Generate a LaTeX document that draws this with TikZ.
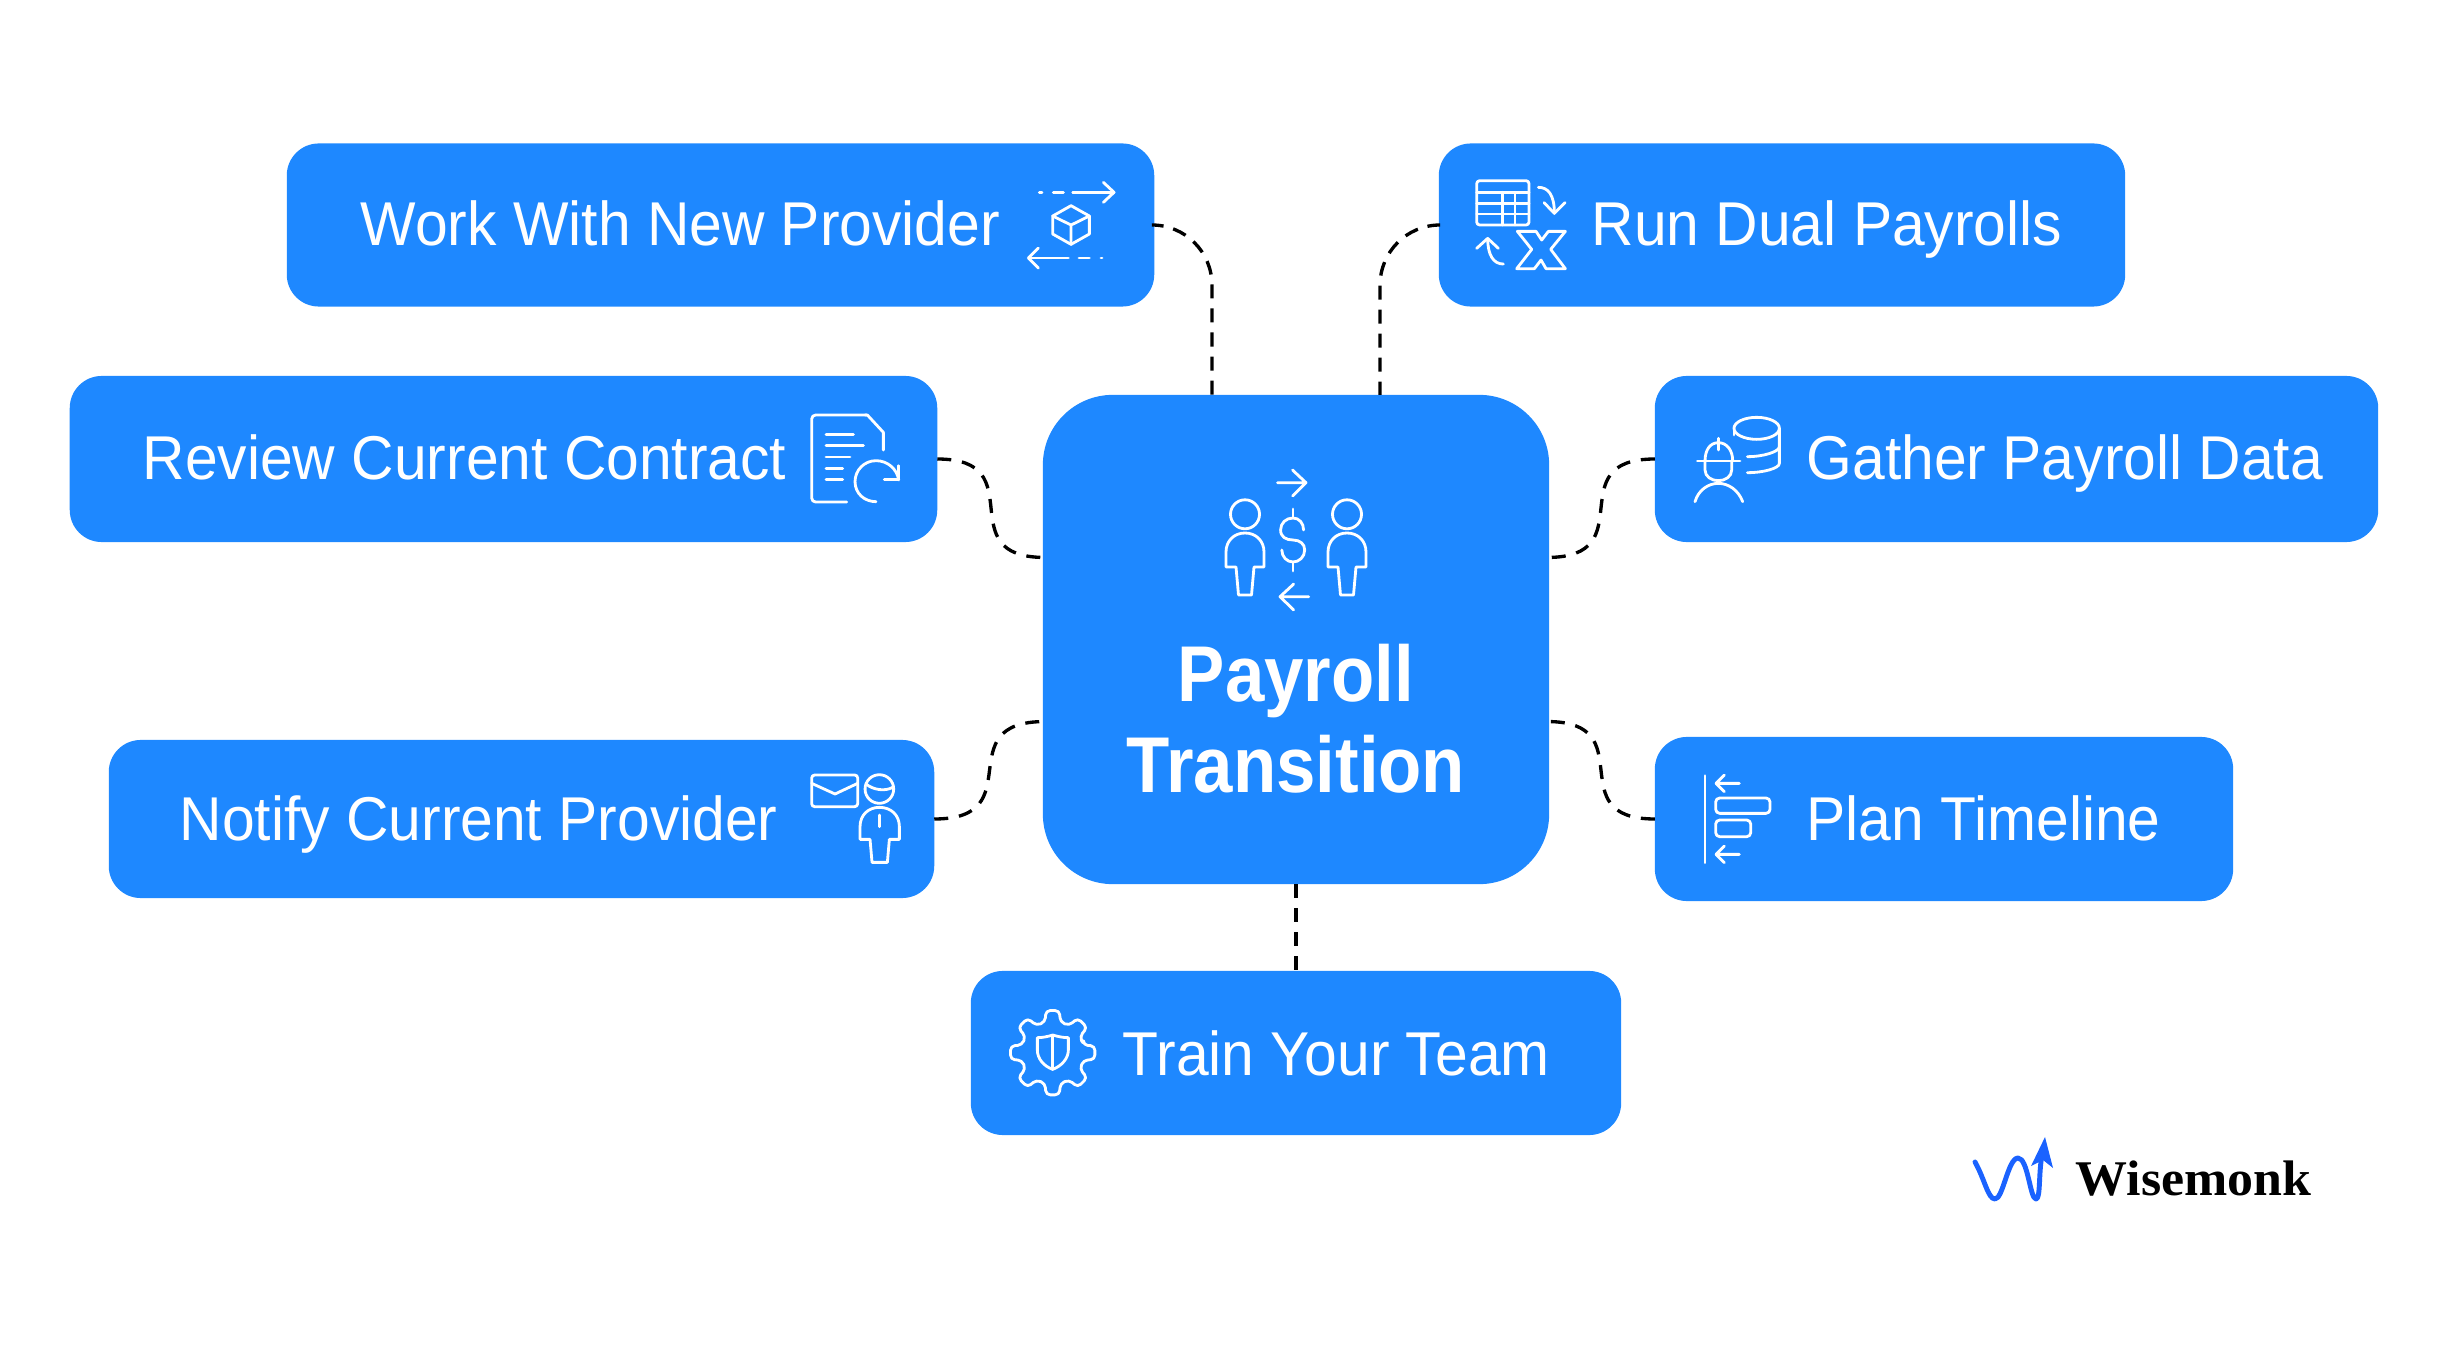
\documentclass[tikz,border=0pt]{standalone}
\usepackage{fontspec}
\setmainfont{Liberation Sans}[FakeStretch=0.95]
\newfontfamily\titlefont{Liberation Sans}[FakeStretch=0.895]
\newfontfamily\logofont{Liberation Serif}[FakeStretch=1.04]
\definecolor{boxblue}{HTML}{1E88FF}
\definecolor{logoblue}{HTML}{1A62FF}
\tikzset{
  itembox/.style={fill=boxblue,rounded corners=0.32cm,inner sep=0pt,outer sep=0pt},
  boxtext/.style={anchor=base west,inner sep=0pt,text=white,font=\fontsize{17.6pt}{20pt}\selectfont},
  titletext/.style={anchor=base,inner sep=0pt,text=white,font=\titlefont\fontsize{22.5pt}{26pt}\selectfont\bfseries},
  link/.style={draw=black,line width=0.95pt,dash pattern=on 0.14cm off 0.1cm},
  curvelink/.style={link,dash pattern=on 0.14cm off 0.109cm},
  icon/.style={draw=white,line width=0.8pt,line cap=round,line join=round},
  cropunits/.style={x=0.03333mm,y=-0.03333mm}
}
\begin{document}
\begin{tikzpicture}[x=0.01cm,y=-0.01cm]
\useasboundingbox (0,0) rectangle (2448,1355);

\node[itembox,minimum width=8.67cm,minimum height=1.63cm] (work) at (720.5,225) {};
\node[itembox,minimum width=6.86cm,minimum height=1.63cm] (run) at (1782,225) {};
\node[itembox,minimum width=8.67cm,minimum height=1.66cm] (review) at (503.5,459) {};
\node[itembox,minimum width=7.23cm,minimum height=1.66cm] (gather) at (2016.5,459) {};
\node[itembox,minimum width=8.25cm,minimum height=1.58cm] (notify) at (521.5,819) {};
\node[itembox,minimum width=5.78cm,minimum height=1.64cm] (plan) at (1944,819) {};
\node[itembox,minimum width=6.50cm,minimum height=1.64cm] (train) at (1296,1053) {};
\node[itembox,rounded corners=0.7cm,minimum width=5.06cm,minimum height=4.89cm] (payroll) at (1296,639.5) {};

\node[boxtext] (worktext) at (360,246) {Work With New Provider};
\node[boxtext] (runtext) at (1591,246) {Run Dual Payrolls};
\node[boxtext] (reviewtext) at (142,480) {Review Current Contract};
\node[boxtext] (gathertext) at (1806,480) {Gather Payroll Data};
\node[boxtext] (notifytext) at (179,840) {Notify Current Provider};
\node[boxtext] (plantext) at (1806,840) {Plan Timeline};
\node[boxtext] (traintext) at (1122,1075) {Train Your Team};
\node[titletext] (payrollone) at (1296,701) {Payroll};
\node[titletext] (payrolltwo) at (1296,792) {Transition};

\draw[link,rounded corners=0.6cm] (work.east) -| ([xshift=-0.84cm]payroll.north);
\draw[link,rounded corners=0.6cm] (run.west) -| ([xshift=0.84cm]payroll.north);
\draw[curvelink] (review.east) to[out=0,in=180,looseness=1.7] ([shift={(0.02cm,0.82cm)}]payroll.west);
\draw[curvelink] (notify.east) to[out=0,in=180,looseness=1.7] ([shift={(0.02cm,-0.82cm)}]payroll.west);
\draw[curvelink] (gather.west) to[out=180,in=0,looseness=1.7] ([shift={(-0.02cm,0.82cm)}]payroll.east);
\draw[curvelink] (plan.west) to[out=180,in=0,looseness=1.7] ([shift={(-0.02cm,-0.82cm)}]payroll.east);
\draw[link] (payroll.south) -- (train.north);

% cube
\begin{scope}[shift={(1000,150)},cropunits]
\draw[icon] (118,127)--(126,127) (160,127)--(190,127) (218,127)--(342,127);
\draw[icon] (310,97)--(342,127)--(310,157);
\draw[icon] (85,324)--(205,324) (237,324)--(268,324) (303,324)--(306,324);
\draw[icon] (115,294)--(85,324)--(115,354);
\draw[icon] (213,167)--(268,198)--(268,252)--(213,283)--(158,252)--(158,198)--cycle;
\draw[icon] (158,198)--(213,225)--(268,198) (213,225)--(213,283);
\end{scope}
% table and x
\begin{scope}[shift={(1440,160)},cropunits]
\draw[icon,rounded corners=0.3mm] (110,62) rectangle (267,195);
\draw[icon] (110,97)--(267,97) (110,130)--(267,130) (110,162)--(267,162);
\draw[icon] (187,97)--(187,195) (225,97)--(225,195);
\draw[icon] (295,82) .. controls (325,82) and (343,105) .. (343,160);
\draw[icon] (312,128)--(343,160)--(375,128);
\draw[icon] (143,235) .. controls (143,285) and (160,312) .. (190,312);
\draw[icon] (110,265)--(143,235)--(175,265);
\draw[icon] (232,214)--(288,214)--(305,240)--(325,214)--(376,214)--(332,268)--(376,326)--(318,326)--(303,300)--(283,326)--(230,326)--(275,268)--cycle;
\end{scope}
% contract
\begin{scope}[shift={(790,400)},cropunits]
\draw[icon,rounded corners=0.4mm] (170,306)--(65,306)--(65,45)--(230,45);
\draw[icon] (225,45)--(232,45)--(280,97)--(280,150);
\draw[icon] (108,103)--(190,103) (108,137)--(220,137) (108,171)--(180,171) (108,205)--(158,205) (108,239)--(158,239);
\draw[icon] (258,305) .. controls (223,305) and (195,280) .. (195,245) .. controls (195,210) and (223,182) .. (258,182) .. controls (293,182) and (321,207) .. (326,240);
\draw[icon] (283,238)--(326,238)--(326,197);
\end{scope}
% envelope and person
\begin{scope}[shift={(790,760)},cropunits]
\draw[icon,rounded corners=0.3mm] (65,45) rectangle (203,140);
\draw[icon] (65,70)--(135,102)--(203,70);
\draw[icon] (268,87) circle (1.43mm);
\draw[icon] (228,72) .. controls (250,90) and (285,95) .. (308,82);
\draw[icon] (240,238)--(210,238)--(210,200) .. controls (210,165) and (235,142) .. (268,142) .. controls (303,142) and (328,165) .. (328,200)--(328,238)--(298,238)--(292,307)--(246,307)--cycle;
\draw[icon] (268,165)--(268,200);
\end{scope}
% worker and database
\begin{scope}[shift={(1680,400)},cropunits]
\draw[icon] (230,85) ellipse (2.27mm and 1.1mm);
\draw[icon] (162,85)--(162,105);
\draw[icon] (298,85)--(298,190) .. controls (298,205) and (250,218) .. (202,218);
\draw[icon] (298,140) .. controls (298,155) and (250,170) .. (202,170);
\draw[icon] (52,183)--(180,183) (115,115)--(115,150);
\draw[icon] (75,183) .. controls (75,150) and (90,128) .. (115,128) .. controls (140,128) and (158,150) .. (158,183);
\draw[icon] (75,183)--(75,210) .. controls (75,230) and (95,242) .. (115,242) .. controls (135,242) and (155,230) .. (155,210)--(155,183);
\draw[icon] (45,305) .. controls (55,270) and (85,250) .. (115,250) .. controls (145,250) and (175,270) .. (188,305);
\end{scope}
% timeline
\begin{scope}[shift={(1680,750)},cropunits]
\draw[icon] (75,77)--(75,338);
\draw[icon] (108,100)--(178,100) (133,75)--(108,100)--(133,125);
\draw[icon] (108,313)--(178,313) (133,288)--(108,313)--(133,338);
\draw[icon,rounded corners=0.4mm] (107,144) rectangle (270,190);
\draw[icon,rounded corners=0.4mm] (107,210) rectangle (212,260);
\end{scope}
% gear
\begin{scope}[shift={(990,990)},cropunits]
\begin{scope}[shift={(188,188)}]
\draw[icon,rounded corners=0.42mm] (-14:95) \foreach \a in {0,45,...,315} {
  -- (\a-14:95) -- (\a-9:128) -- (\a+9:128) -- (\a+14:95) } -- cycle;
\end{scope}
\draw[icon] (188,135) .. controls (205,140) and (220,143) .. (235,143)--(235,180) .. controls (235,205) and (215,228) .. (188,238) .. controls (160,228) and (142,205) .. (142,180)--(142,143) .. controls (157,143) and (172,140) .. (188,135);
\draw[icon] (188,138)--(188,238);
\end{scope}
% people and dollar
\foreach \p in {1245,1347} {
  \draw[icon] (\p,514.3) circle (0.145cm);
  \draw[icon] (\p-9,567)--(\p-19,567)--(\p-19,552) .. controls (\p-19,541) and (\p-11,533) .. (\p,533) .. controls (\p+11,533) and (\p+19,541) .. (\p+19,552)--(\p+19,567)--(\p+9,567)--(\p+6.5,595)--(\p-6.5,595)--cycle;
}
\draw[icon] (1293,509)--(1293,518) (1293,562)--(1293,571);
\draw[icon] (1303.6,530) .. controls (1303.6,523) and (1299,518) .. (1293,518) .. controls (1286,518) and (1280.6,523) .. (1280.6,530) .. controls (1280.6,537) and (1286,540) .. (1293,540) .. controls (1300,540) and (1304.7,544) .. (1304.7,550) .. controls (1304.7,557) and (1299,562) .. (1293,562) .. controls (1287,562) and (1281.8,557) .. (1281.8,550);
\draw[icon] (1277.5,482.7)--(1306,482.7) (1292.5,470)--(1306,482.7)--(1292.5,496);
\draw[icon] (1308.7,596.7)--(1280,596.7) (1293.7,584)--(1280,596.7)--(1293.7,610);
% logo
\draw[logoblue,line width=1.4pt,line cap=round,line join=round] (1975,1162) .. controls (1985,1180) and (1988,1199) .. (1995,1199) .. controls (2003,1199) and (2008,1158) .. (2018,1158) .. controls (2028,1158) and (2030,1199) .. (2036,1199) .. controls (2041,1199) and (2038,1170) .. (2043,1150);
\fill[logoblue] (2045,1137)--(2053,1168)--(2043,1160)--(2031,1166)--cycle;
\node[anchor=base west,inner sep=0pt,font=\logofont\fontsize{14.2pt}{16pt}\selectfont\bfseries] (wisemonk) at (2075,1195) {Wisemonk};
\end{tikzpicture}
\end{document}
